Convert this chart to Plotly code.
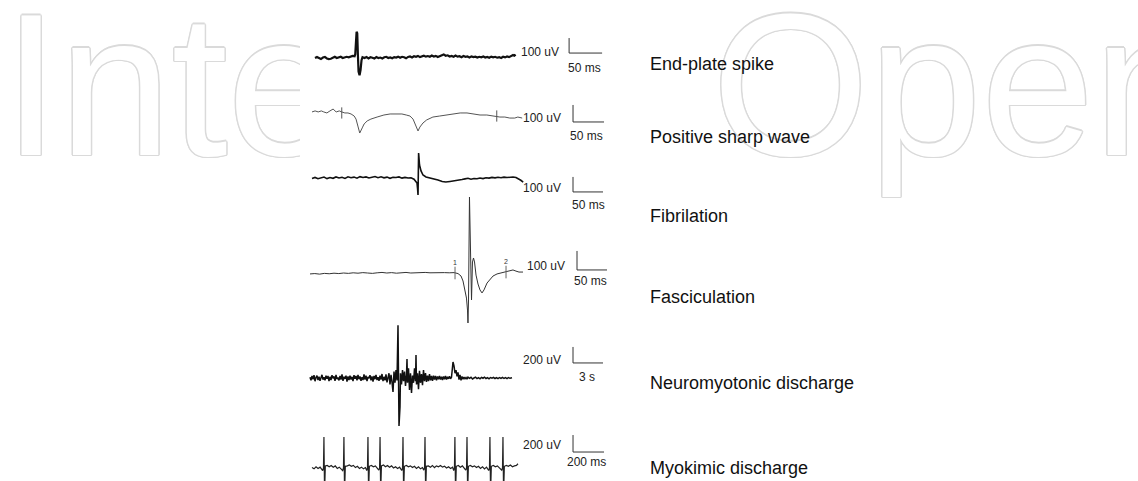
import plotly.graph_objects as go

W, H = 1138, 481

# ---------------- data (time, amplitude) ----------------
# End-plate spike: time in ms, amplitude in uV
endplate = [(0,0),(3,7),(6,0),(9,-7),(12,3),(15,7),(18,-3),(21,-7),(24,-5),(27,2),(30,8),(33,0),(36,2),(39,8),
            (42,0),(45,3),(48,8),(51,5),(54,12),(57,14),(60,12),(61,25),(63,175),(64,165),(65,20),(66,-90),
            (67.5,-115),(69,-80),(70.5,-15),(72,5),(75,0),(78,7),(81,-3),(84,5),(87,2),(90,-4),(93,6),(96,0),
            (99,3),(102,-3),(105,5),(108,8),(111,0),(114,4),(117,-2),(120,6),(123,3),(126,9),(129,2),(132,8),
            (135,5),(138,-2),(141,7),(144,10),(147,4),(150,12),(153,8),(156,14),(159,6),(162,11),(165,15),
            (168,9),(171,13),(174,8),(177,16),(180,10),(183,14),(186,7),(189,12),(192,20),(195,24),(198,15),
            (201,18),(204,10),(207,14),(210,8),(213,16),(216,9),(219,12),(222,5),(225,13),(228,8),(231,10),
            (234,4),(237,11),(240,6),(243,9),(246,3),(249,8),(252,5),(255,10),(258,3),(261,7),(264,2),(267,9),
            (270,4),(273,8),(276,2),(279,6),(282,0),(285,8),(288,4),(291,10),(294,6),(297,12),(300,20),
            (302,15),(304,22)]

# Positive sharp wave: ms, uV
psw = [(0,18),(5,24),(10,18),(15,24),(19,18),(24,12),(29,24),(34,35),(39,18),(44,24),(48,18),(53,12),(58,12),
       (63,6),(68,-6),(71,-24),(74,-65),(77,-106),(81,-76),(84,-53),(89,-35),(95,-24),(105,-12),(116,0),(126,6),
       (135,6),(145,6),(152,0),(158,-6),(163,-24),(166,-47),(169,-76),(171,-94),(174,-71),(179,-47),(185,-29),
       (195,-12),(206,-6),(218,0),(227,6),(239,12),(250,12),(260,6),(271,0),(282,0),(292,-6),(298,-6),(303,-12),
       (311,-12),(319,-18),(327,-18),(332,-12),(339,-18)]
psw_marks = [48, 298]          # ms, small cursor ticks on the trace

# Fibrilation: ms, uV
fib = [(0,-3),(5,4),(10,-5),(15,2),(20,6),(25,-4),(30,3),(35,-2),(40,7),(45,0),(50,5),(55,-3),(60,8),(65,2),
       (70,6),(75,-1),(80,9),(85,3),(90,7),(95,0),(100,5),(105,10),(110,2),(115,8),(120,1),(125,6),(130,-2),
       (135,5),(140,3),(145,7),(150,-1),(155,4),(160,0),(165,2),(170,-8),(175,-33),(176,-73),(176.7,-113),
       (177.7,167),(179.2,87),(181.7,47),(185,20),(190,7),(196.7,0),(203,-3),(210,-13),(217,-23),(223,-27),
       (230,-23),(237,-20),(243,-13),(250,-10),(255,-6),(260,-2),(265,-8),(270,-3),(275,-5),(280,0),(285,-4),
       (290,2),(295,-1),(300,4),(305,1),(310,5),(315,2),(320,6),(325,3),(330,5),(335,7),(340,3),(345,-5),
       (348,-15),(352,-27)]

# Fasciculation: ms, uV
fasc = [(0,-5),(8,-3),(16,-6),(24,-2),(32,-4),(40,-1),(48,-3),(56,0),(64,-2),(72,1),(80,-1),(88,2),(96,0),
        (104,-2),(112,1),(120,3),(128,0),(136,2),(144,-1),(152,1),(160,3),(168,0),(176,2),(184,1),(192,3),
        (200,1),(208,2),(216,0),(224,2),(232,1),(240,2),(246.7,-3),(251.7,-16),(255,-42),(258.3,-84),
        (260.8,-132),(262.5,-195),(263.3,-263),(264.2,-142),(265.8,400),(267.5,121),(269.2,-142),(270.8,58),
        (272.5,79),(274.2,58),(276.7,-11),(280,-58),(283.3,-89),(286.7,-105),(290,-89),(295,-53),(300,-32),
        (305,-16),(311.7,-5),(318.3,0),(326.7,5),(333.3,10),(338.3,16),(343.3,10),(348.3,5),(355,5)]
fasc_marks = [(241.7, "1"), (326.7, "2")]   # ms, cursor label

# Neuromyotonic discharge: s, uV
neuro = [(0.0,10),(0.1,-30),(0.2,25),(0.3,-15),(0.4,35),(0.5,-40),(0.6,5),(0.7,30),(0.8,-25),(0.9,15),
         (1.0,-35),(1.1,20),(1.2,40),(1.3,-20),(1.4,10),(1.5,-30),(1.6,30),(1.7,-10),(1.8,25),(1.9,-40),
         (2.0,15),(2.1,-25),(2.2,35),(2.3,-5),(2.4,20),(2.5,-35),(2.6,40),(2.7,-15),(2.8,5),(2.9,-30),
         (3.0,25),(3.1,-20),(3.2,45),(3.3,-35),(3.4,15),(3.5,-10),(3.6,30),(3.7,-45),(3.8,20),(3.9,-25),
         (4.0,30),(4.1,-20),(4.2,15),(4.3,-40),(4.4,35),(4.5,-10),(4.6,25),(4.7,-30),(4.8,40),(4.9,-15),
         (5.0,20),(5.1,-35),(5.2,10),(5.3,-25),(5.4,45),(5.5,-20),(5.6,30),(5.7,-40),(5.8,15),(5.9,-5),
         (6.0,35),(6.1,-30),(6.2,20),(6.3,-45),(6.4,25),(6.5,-15),(6.6,40),(6.7,-25),(6.8,10),(6.9,-35),
         (7.0,30),(7.1,-20),(7.2,50),(7.3,-40),(7.4,15),(7.5,-30),(7.6,45),(7.7,-55),(7.8,25),
         (7.9,60),(8.0,-80),(8.1,40),(8.2,-50),(8.3,-175),(8.4,80),(8.5,-60),(8.6,100),(8.7,-30),(8.8,660),
         (8.85,-350),(8.9,-600),(9.0,-362),(9.05,60),(9.15,-80),(9.25,100),(9.35,-40),(9.45,80),(9.55,-100),
         (9.65,40),(9.7,237),(9.75,-60),(9.85,120),(9.95,-150),(10.05,60),(10.15,-187),(10.25,30),(10.35,-60),
         (10.45,120),(10.55,-40),(10.6,287),(10.65,-80),(10.75,60),(10.85,-140),(10.95,90),(11.05,-60),
         (11.15,50),(11.25,-90),(11.35,100),(11.45,-40),(11.55,60),(11.65,-50),(11.75,30),(11.85,-40),
         (11.95,50),(12.05,-30),(12.15,25),(12.25,-35),(12.35,30),(12.45,-20),(12.55,25),(12.65,-30),(12.75,20),
         (12.85,-15),(12.95,25),(13.05,-20),(13.15,15),(13.25,-25),(13.35,20),(13.45,-15),(13.55,25),(13.65,-20),
         (13.75,15),(13.85,-10),(13.95,20),(14.05,-10),(14.15,10),(14.3,200),(14.4,150),(14.5,60),
         (14.6,100),(14.7,20),(14.8,70),(14.9,-20),(15.0,40),(15.1,-30),(15.2,20),(15.3,-15),(15.4,10),
         (15.5,-10),(15.6,5),(15.7,-15),(15.8,10),(15.95,-5),(16.1,8),(16.25,-12),(16.4,0),(16.55,10),
         (16.7,-8),(16.85,5),(17.0,-10),(17.15,8),(17.3,-3),(17.45,10),(17.6,-6),(17.75,4),(17.9,-10),
         (18.05,6),(18.2,-2),(18.35,8),(18.5,-6),(18.65,5),(18.8,-8),(18.95,6),(19.1,-4),(19.25,8),(19.4,-6),
         (19.55,4),(19.7,-8),(19.85,6),(20.0,-4),(20.2,2)]

# Myokimic discharge: ms, uV
myok = [(0,5),(13,-10),(26,15),(39,-5),(52,10),(65,-15),(69,-30),(74,0),(77,365),(81,-300),(86,25),(98,30),
        (111,15),(124,30),(137,10),(150,25),(163,-5),(176,10),(189,-10),(198,-30),(203,0),(206,365),(210,-300),
        (215,20),(228,25),(241,35),(254,20),(267,30),(280,5),(293,20),(306,-5),(319,10),(332,-10),(345,5),
        (353,-30),(358,0),(361,365),(365,-300),(370,20),(383,30),(396,15),(409,25),(422,-5),(431,-25),(436,0),
        (439,365),(443,-300),(448,25),(461,35),(474,15),(487,30),(500,10),(513,25),(526,0),(539,15),(552,-5),
        (565,10),(579,-30),(584,0),(587,365),(591,-300),(596,20),(609,30),(622,15),(635,25),(648,5),(661,20),
        (674,-5),(687,15),(700,-10),(713,5),(721,-25),(726,0),(729,365),(733,-300),(738,20),(751,25),(764,10),
        (777,30),(790,5),(803,25),(816,15),(829,30),(842,10),(855,20),(868,0),(881,15),(894,-5),(907,10),
        (914,-30),(919,0),(922,365),(926,-300),(931,20),(944,30),(957,10),(970,25),(983,0),(992,-25),(997,0),
        (1000,365),(1004,-300),(1009,20),(1022,30),(1035,15),(1048,25),(1061,5),(1074,20),(1087,-5),(1100,15),
        (1113,-10),(1126,10),(1140,-30),(1145,0),(1148,365),(1152,-300),(1157,20),(1170,30),(1183,15),
        (1196,25),(1209,0),(1224,-25),(1229,0),(1232,365),(1236,-300),(1241,20),(1254,30),(1267,20),(1280,35),
        (1293,15),(1306,25),(1319,30),(1329,50)]

titles = ["End-plate spike", "Positive sharp wave", "Fibrilation", "Fasciculation",
          "Neuromyotonic discharge", "Myokimic discharge"]
amp_labels = ["100 uV", "100 uV", "100 uV", "100 uV", "200 uV", "200 uV"]
time_labels = ["50 ms", "50 ms", "50 ms", "50 ms", "3 s", "200 ms"]
bar_amp = [100, 100, 100, 100, 200, 200]      # uV
bar_time = [50, 50, 50, 50, 3, 200]            # ms / s
watermark = ["Inte", "Open"]

# ---------------- layout of each panel (pixel placement and scale) ----------------
panels = [
    dict(data=endplate, x0=315, base=58,  tpp=50/33, upp=100/15, bar=(385, 33),   amp=(373, 42),  tl=(409, -67),  color="#111", width=2.2),
    dict(data=psw,      x0=312, base=115, tpp=50/31, upp=100/17, bar=(421, -41),  amp=(405, -18), tl=(443, -124), color="#555", width=1.0),
    dict(data=fib,      x0=312, base=178, tpp=50/30, upp=100/15, bar=(435, -93),  amp=(418, -67), tl=(460, -180), color="#111", width=1.6),
    dict(data=fasc,     x0=310, base=273, tpp=50/30, upp=100/19, bar=(445, 16),   amp=(428, 37),  tl=(468, -42),  color="#333", width=1.0),
    dict(data=neuro,    x0=310, base=378, tpp=0.1,   upp=200/16, bar=(26.3, 188), amp=(25.3, 225),tl=(27.7, 12),   color="#111", width=1.5),
    dict(data=myok,     x0=312, base=468, tpp=200/31, upp=200/17, bar=(1684, 188),amp=(1619, 270),tl=(1774, 71),   color="#222", width=1.2),
]
title_y = [64, 137, 216, 297, 383, 468]
wm_x = [3, 712]
wm_y = 104
FONT = "Liberation Sans, Arial, sans-serif"
OUT = "#dadada"
shadow = ", ".join(f"{dx}px {dy}px 0 {OUT}" for dx, dy in
                   [(1.5, 0), (-1.5, 0), (0, 1.5), (0, -1.5), (1, 1), (-1, -1), (1, -1), (-1, 1)])

fig = go.Figure()

# background watermark (pixel frame on the main axes)
fig.add_trace(go.Scatter(
    x=wm_x, y=[wm_y, wm_y], mode="text", text=watermark, textposition="middle right",
    textfont=dict(family=FONT, size=202, color="white", shadow=shadow),
    hoverinfo="skip", showlegend=False, cliponaxis=False))
# white figure box hiding the watermark behind the traces
fig.add_trace(go.Scatter(x=[300, 642, 642, 300, 300], y=[0, 0, 200, 200, 0], fill="toself",
                         fillcolor="white", mode="none", hoverinfo="skip", showlegend=False))

layout_axes = {}
annotations = []
for i, p in enumerate(panels):
    k = i + 2
    xa, ya = f"x{k}", f"y{k}"
    t = [d[0] for d in p["data"]]
    v = [d[1] for d in p["data"]]
    fig.add_trace(go.Scatter(x=t, y=v, mode="lines", xaxis=xa, yaxis=ya,
                             line=dict(color=p["color"], width=p["width"]),
                             hoverinfo="skip", showlegend=False))
    # scale bar
    bt, bv = p["bar"]
    fig.add_trace(go.Scatter(x=[bt, bt, bt + bar_time[i]], y=[bv + bar_amp[i], bv, bv], mode="lines",
                             xaxis=xa, yaxis=ya, line=dict(color="#333", width=1),
                             hoverinfo="skip", showlegend=False))
    layout_axes[f"xaxis{k}"] = dict(overlaying="x", anchor=ya, visible=False,
                                    range=[-p["x0"] * p["tpp"], (W - p["x0"]) * p["tpp"]])
    layout_axes[f"yaxis{k}"] = dict(overlaying="y", anchor=xa, visible=False,
                                    range=[-(H - p["base"]) * p["upp"], p["base"] * p["upp"]])
    annotations.append(dict(x=p["amp"][0], y=p["amp"][1], xref=xa, yref=ya, text=amp_labels[i],
                            showarrow=False, xanchor="right", yanchor="middle",
                            font=dict(family=FONT, size=12, color="#222")))
    annotations.append(dict(x=p["tl"][0], y=p["tl"][1], xref=xa, yref=ya, text=time_labels[i],
                            showarrow=False, xanchor="center", yanchor="middle",
                            font=dict(family=FONT, size=12, color="#222")))
    annotations.append(dict(x=648, y=title_y[i], xref="x", yref="y", text=titles[i], showarrow=False,
                            xanchor="left", yanchor="middle", font=dict(family=FONT, size=18, color="#111")))

# cursor ticks on positive sharp wave (panel 2) and fasciculation (panel 4)
fig.add_trace(go.Scatter(x=psw_marks, y=[12, -6], mode="markers", xaxis="x3", yaxis="y3",
                         marker=dict(symbol="line-ns", size=8, line=dict(color="#555", width=1)),
                         hoverinfo="skip", showlegend=False))
fig.add_trace(go.Scatter(x=[m[0] for m in fasc_marks], y=[0, 5], mode="markers+text",
                         text=[m[1] for m in fasc_marks], textposition="top center",
                         textfont=dict(family=FONT, size=7, color="#333"),
                         xaxis="x5", yaxis="y5",
                         marker=dict(symbol="line-ns", size=9, line=dict(color="#666", width=1)),
                         hoverinfo="skip", showlegend=False))

fig.update_layout(
    width=W, height=H, autosize=False,
    margin=dict(l=0, r=0, t=0, b=0, pad=0),
    paper_bgcolor="white", plot_bgcolor="white",
    xaxis=dict(range=[0, W], visible=False),
    yaxis=dict(range=[H, 0], visible=False),
    annotations=annotations,
    hovermode=False,
    **layout_axes,
)

fig.write_html("out.html", config={"displayModeBar": False, "staticPlot": True},
               post_script="document.body.style.margin='0';document.body.style.padding='0';")
